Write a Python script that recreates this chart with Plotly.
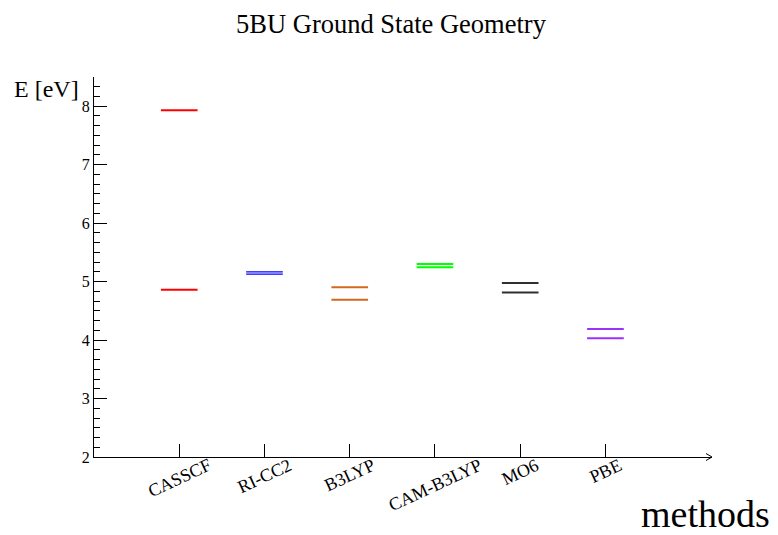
import plotly.graph_objects as go

# Data
methods = ["CASSCF", "RI-CC2", "B3LYP", "CAM-B3LYP", "MO6", "PBE"]
upper_state = [7.93, 5.167, 4.905, 5.30, 4.975, 4.19]
lower_state = [4.86, 5.128, 4.69, 5.245, 4.815, 4.03]
colors = ["#ff0000", "#0000ff", "#d2691e", "#00ff00", "#303030", "#9b30ff"]
widths = [2, 1.2, 2, 2, 2, 2]

half_w = 0.215
serif = "Liberation Serif, Times New Roman, serif"

# page body has an 8px margin, so the figure is 8px smaller than the window
W, H = 770, 527
L, R, T, B = 86, 66, 69, 78
plot_w = W - L - R
plot_h = H - T - B

fig = go.Figure()
for i, (m, hi, lo, c, lw) in enumerate(zip(methods, upper_state, lower_state, colors, widths)):
    xc = i + 1
    fig.add_trace(go.Scatter(
        x=[xc - half_w, xc + half_w, None, xc - half_w, xc + half_w],
        y=[hi, hi, None, lo, lo],
        mode="lines",
        line=dict(color=c, width=lw),
        name=m,
        showlegend=False,
        hoverinfo="skip",
    ))

# method labels, rotated and centred under their ticks
for i, m in enumerate(methods):
    fig.add_annotation(
        x=i + 1, xref="x", y=0, yref="paper",
        text=m, showarrow=False, textangle=-25,
        xanchor="center", yanchor="top", yshift=5,
        font=dict(family=serif, size=18, color="black"),
    )

# axis titles
fig.add_annotation(
    x=(4 - L) / plot_w, xref="paper", y=(plot_h + T - 81) / plot_h, yref="paper",
    text="E [eV]", showarrow=False, xanchor="left", yanchor="middle",
    font=dict(family=serif, size=24, color="black"),
)
fig.add_annotation(
    x=(W - 6 - L) / plot_w, xref="paper", y=-(506 - (T + plot_h)) / plot_h, yref="paper",
    text="methods", showarrow=False, xanchor="right", yanchor="middle",
    font=dict(family=serif, size=38, color="black"),
)

# arrow head at end of x axis
fig.add_shape(
    type="path", xref="paper", yref="paper",
    xsizemode="pixel", ysizemode="pixel", xanchor=1, yanchor=0,
    path="M -6,3.5 L 0,0 L -6,-3.5",
    line=dict(color="black", width=1),
)

fig.update_layout(
    width=W, height=H,
    margin=dict(l=L, r=R, t=T, b=B, autoexpand=False),
    paper_bgcolor="white", plot_bgcolor="white",
    title=dict(
        text="5BU Ground State Geometry",
        x=(391 - 8) / W, xref="container", xanchor="center",
        y=1 - 16 / H, yref="container", yanchor="middle",
        font=dict(family=serif, size=26.5, color="black"),
    ),
    xaxis=dict(
        range=[0, 7.25], tickvals=[1, 2, 3, 4, 5, 6],
        showticklabels=False, ticks="inside", ticklen=13,
        tickcolor="black", tickwidth=1,
        showline=True, linecolor="black", linewidth=1,
        showgrid=False, zeroline=False,
    ),
    yaxis=dict(
        range=[2, 8.5], tick0=2, dtick=1,
        ticks="inside", ticklen=13, tickcolor="black", tickwidth=1,
        tickfont=dict(family=serif, size=16, color="black"),
        minor=dict(tick0=2, dtick=1 / 6, ticks="inside", ticklen=6,
                   tickcolor="black", tickwidth=1, showgrid=False),
        showline=True, linecolor="black", linewidth=1,
        showgrid=False, zeroline=False,
    ),
)

fig.write_html("out.html")
